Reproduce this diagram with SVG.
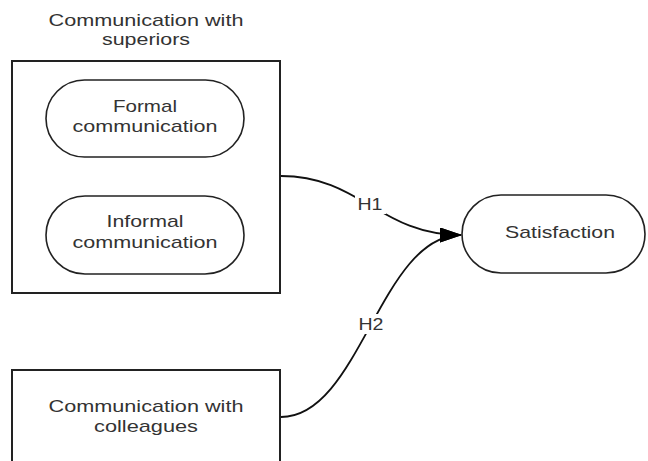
<svg xmlns="http://www.w3.org/2000/svg" width="648" height="461" viewBox="0 0 648 461">
<defs>
<style>
text{font-family:"Liberation Sans",Arial,sans-serif;font-size:17px;fill:#333;text-anchor:middle}
.box{fill:#fff;stroke:#222;stroke-width:2}
.pill{fill:#fff;stroke:#222;stroke-width:1.6}
.edge{fill:none;stroke:#111;stroke-width:1.8}
.lbl{fill:#fff;stroke:none}
</style>
<marker id="arr" markerUnits="userSpaceOnUse" markerWidth="22" markerHeight="16" refX="21" refY="7.5" orient="auto">
<path d="M0,0 L22,7.5 L0,15 Z" fill="#000"/>
</marker>
</defs>
<g id="superiors">
<text x="146" y="26" textLength="195" lengthAdjust="spacingAndGlyphs">Communication with</text>
<text x="146" y="45" textLength="88" lengthAdjust="spacingAndGlyphs">superiors</text>
<rect class="box" x="12" y="61" width="268" height="232"/>
</g>
<g id="formal">
<rect class="pill" x="46" y="80" width="198" height="77" rx="38.5"/>
<text x="145" y="112" textLength="64" lengthAdjust="spacingAndGlyphs">Formal</text>
<text x="145" y="132" textLength="145" lengthAdjust="spacingAndGlyphs">communication</text>
</g>
<g id="informal">
<rect class="pill" x="46" y="196" width="198" height="78" rx="39"/>
<text x="145" y="227" textLength="77" lengthAdjust="spacingAndGlyphs">Informal</text>
<text x="145" y="248" textLength="145" lengthAdjust="spacingAndGlyphs">communication</text>
</g>
<g id="colleagues">
<rect class="box" x="12" y="370" width="268" height="120"/>
<text x="146" y="412" textLength="195" lengthAdjust="spacingAndGlyphs">Communication with</text>
<text x="146" y="432" textLength="104" lengthAdjust="spacingAndGlyphs">colleagues</text>
</g>
<g id="satisfaction">
<rect class="pill" x="462" y="195" width="183" height="78" rx="39"/>
<text x="560" y="238" textLength="110" lengthAdjust="spacingAndGlyphs">Satisfaction</text>
</g>
<g id="connectors">
<path class="edge" d="M281,176 C360,176 380,235 461,235" marker-end="url(#arr)"/>
<path class="edge" d="M281,417 C360,417 380,235 461,235" marker-end="url(#arr)"/>
<rect class="lbl" x="355" y="194" width="31" height="20"/>
<text x="370" y="210" textLength="25" lengthAdjust="spacingAndGlyphs">H1</text>
<rect class="lbl" x="355" y="314" width="31" height="20"/>
<text x="371" y="330" textLength="25" lengthAdjust="spacingAndGlyphs">H2</text>
</g>
</svg>
